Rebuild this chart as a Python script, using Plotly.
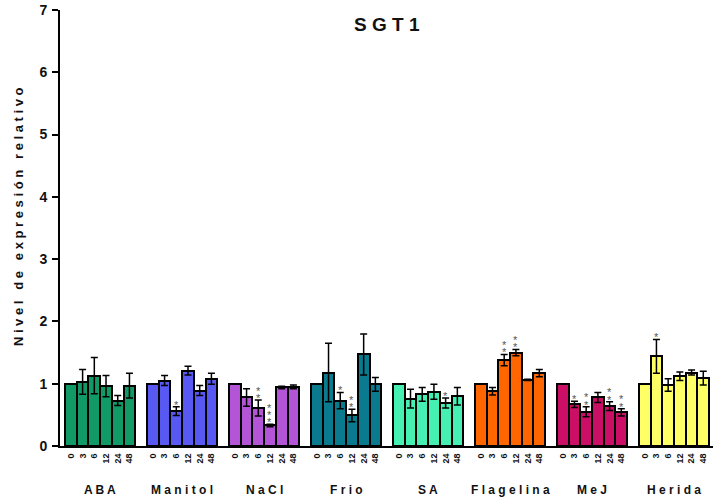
import plotly.graph_objects as go

groups = ["ABA", "Manitol", "NaCl", "Frio", "SA", "Flagelina", "MeJ", "Herida"]
times = ["0", "3", "6", "12", "24", "48"]

aba = [1.00, 1.03, 1.13, 0.96, 0.73, 0.97]
manitol = [1.00, 1.05, 0.56, 1.21, 0.89, 1.08]
nacl = [1.00, 0.78, 0.61, 0.33, 0.94, 0.95]
frio = [1.00, 1.18, 0.73, 0.49, 1.47, 0.99]
sa = [1.00, 0.76, 0.83, 0.87, 0.69, 0.80]
flagelina = [1.00, 0.88, 1.38, 1.50, 1.06, 1.17]
mej = [1.00, 0.67, 0.55, 0.78, 0.64, 0.54]
herida = [1.00, 1.44, 0.98, 1.12, 1.18, 1.09]

aba_err = [0.0, 0.20, 0.29, 0.17, 0.08, 0.20]
manitol_err = [0.0, 0.08, 0.07, 0.07, 0.08, 0.09]
nacl_err = [0.0, 0.14, 0.13, 0.02, 0.02, 0.03]
frio_err = [0.0, 0.47, 0.13, 0.10, 0.33, 0.11]
sa_err = [0.0, 0.15, 0.11, 0.12, 0.08, 0.14]
flagelina_err = [0.0, 0.06, 0.09, 0.05, 0.01, 0.06]
mej_err = [0.0, 0.05, 0.08, 0.08, 0.07, 0.06]
herida_err = [0.0, 0.27, 0.10, 0.07, 0.04, 0.11]

aba_sig = [0, 0, 0, 0, 0, 0]
manitol_sig = [0, 0, 1, 0, 0, 0]
nacl_sig = [0, 0, 2, 3, 0, 0]
frio_sig = [0, 0, 1, 2, 0, 0]
sa_sig = [0, 0, 0, 0, 1, 0]
flagelina_sig = [0, 0, 2, 2, 0, 0]
mej_sig = [0, 1, 2, 0, 2, 2]
herida_sig = [0, 1, 0, 0, 0, 0]

colors = ["#119966", "#5858F2", "#B455D8", "#0A7A8E", "#46EFB2", "#FF6600", "#CC0F66", "#FFFF66"]

values = [aba, manitol, nacl, frio, sa, flagelina, mej, herida]
errors = [aba_err, manitol_err, nacl_err, frio_err, sa_err, flagelina_err, mej_err, herida_err]
sigs = [aba_sig, manitol_sig, nacl_sig, frio_sig, sa_sig, flagelina_sig, mej_sig, herida_sig]

FONT = "Liberation Sans, Arial, sans-serif"
INK = "#111111"
SLOT = len(times) + 1


def spaced(s, sep=" "):
    return sep.join(list(s))


fig = go.Figure()
tickvals, ticktext = [], []
annotations = []
for g, name in enumerate(groups):
    xs = [g * SLOT + i for i in range(len(times))]
    tickvals += xs
    ticktext += times
    fig.add_trace(go.Bar(
        x=xs, y=values[g], width=1.0, name=name,
        marker=dict(color=colors[g], line=dict(color="#000000", width=2)),
        error_y=dict(type="data", array=errors[g], visible=True,
                     color="#000000", thickness=1.5, width=3.5),
        showlegend=False,
    ))
    for i, n in enumerate(sigs[g]):
        for k in range(n):
            annotations.append(dict(
                x=xs[i], y=values[g][i] + errors[g][i], xref="x", yref="y",
                text="*", showarrow=False, yanchor="middle",
                yshift=2 + 7.3 * k,
                font=dict(family=FONT, size=11, color="#555555"),
            ))
    annotations.append(dict(
        x=g * SLOT + (len(times) - 1) / 2, y=0, xref="x", yref="paper",
        text=spaced(name), showarrow=False,
        yanchor="middle", yshift=-44,
        font=dict(family=FONT, size=12, color=INK, weight="bold"),
    ))

# title and y-axis title
annotations.append(dict(
    x=0.5, y=1, xref="paper", yref="paper", text="S G T 1", showarrow=False,
    yanchor="middle", yshift=-14,
    font=dict(family=FONT, size=19, color=INK, weight="bold"),
))
annotations.append(dict(
    x=0, y=0.525, xref="paper", yref="paper",
    text=spaced("Nivel de expresión relativo"), showarrow=False,
    textangle=-90, xanchor="center", yanchor="middle", xshift=-42,
    font=dict(family=FONT, size=13, color=INK, weight="bold"),
))

fig.update_layout(
    width=713, height=502,
    margin=dict(l=60, r=0, t=10, b=56),
    plot_bgcolor="white", paper_bgcolor="white",
    xaxis=dict(range=[-0.93, 54.83], tickvals=tickvals, ticktext=ticktext,
               tickangle=-90, ticks="", showgrid=False, zeroline=False,
               showline=True, linecolor="black", linewidth=2, automargin=False,
               tickfont=dict(family=FONT, size=9, color=INK, weight="bold"),
               ticklabelstandoff=2),
    yaxis=dict(range=[0, 7], dtick=1, ticks="outside", ticklen=6, tickwidth=2,
               tickcolor="black", showgrid=False, zeroline=False,
               showline=True, linecolor="black", linewidth=2, automargin=False,
               tickfont=dict(family=FONT, size=14, color=INK, weight="bold"),
               ticklabelstandoff=2),
    annotations=annotations,
    bargap=0,
)

fig.write_html(
    "out.html",
    config={"displayModeBar": False},
    post_script="document.body.style.margin='0';document.body.style.overflow='hidden';",
)
